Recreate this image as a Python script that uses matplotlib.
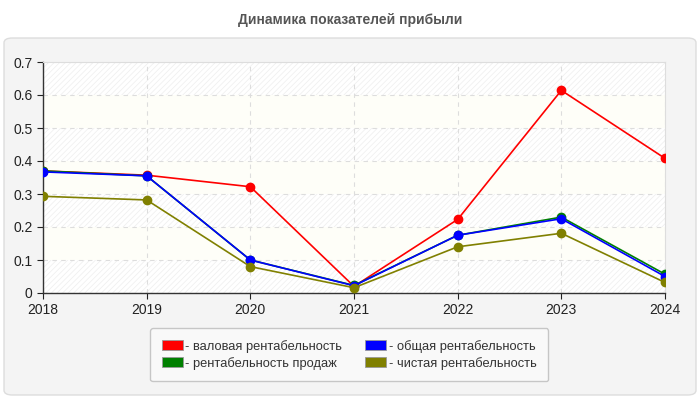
import matplotlib
matplotlib.use("Agg")
import matplotlib.pyplot as plt
from matplotlib.patches import FancyBboxPatch, Patch

years = [2018, 2019, 2020, 2021, 2022, 2023, 2024]
gross = [0.370, 0.357, 0.322, 0.020, 0.223, 0.614, 0.408]
sales = [0.370, 0.355, 0.100, 0.023, 0.175, 0.230, 0.057]
total = [0.367, 0.355, 0.100, 0.022, 0.175, 0.225, 0.050]
net = [0.293, 0.282, 0.080, 0.016, 0.140, 0.181, 0.032]

labels = ["- валовая рентабельность", "- рентабельность продаж",
          "- общая рентабельность", "- чистая рентабельность"]
colors = ["#ff0000", "#008000", "#0000ff", "#808000"]
yticks = [0, 0.1, 0.2, 0.3, 0.4, 0.5, 0.6, 0.7]

plt.rcParams["font.family"] = ["Liberation Sans", "DejaVu Sans"]
plt.rcParams["hatch.linewidth"] = 0.5

fig = plt.figure(figsize=(7, 4), dpi=100)
fig.patch.set_facecolor("white")

# серая подложка
panel = FancyBboxPatch((4 / 700, 5 / 400), 692 / 700, 357 / 400,
                       boxstyle="round,pad=0,rounding_size=0.012",
                       transform=fig.transFigure, facecolor="#f4f4f4",
                       edgecolor="#dddddd", lw=1, zorder=-5)
fig.patches.append(panel)

fig.text(0.5, 0.95, "Динамика показателей прибыли", ha="center", va="center",
         fontsize=10, fontweight="bold", color="#555555")

ax = fig.add_axes([43 / 700, 107 / 400, 622 / 700, 231 / 400])
ax.set_facecolor("white")

# полосы фона
for i in range(7):
    lo, hi = yticks[i], yticks[i + 1]
    if i % 2 == 0:
        ax.axhspan(lo, hi, facecolor="white", edgecolor="#eeeeee",
                   hatch="//////", lw=0, zorder=0)
    else:
        ax.axhspan(lo, hi, facecolor="#fefef8", lw=0, zorder=0)

series = [gross, sales, total, net]
for vals, c in zip(series, colors):
    ax.plot(years, vals, color=c, lw=1.2, marker="o", ms=6, zorder=3)

ax.set_xlim(2018, 2024)
ax.set_ylim(0, 0.7)
ax.set_xticks(years)
ax.set_yticks(yticks)
ax.set_yticklabels(["0", "0.1", "0.2", "0.3", "0.4", "0.5", "0.6", "0.7"])
ax.tick_params(labelsize=10, colors="#222222", length=4, width=0.8)
ax.grid(True, color="#dddddd", ls=(0, (4, 4)), lw=0.8, zorder=1)
ax.set_axisbelow(True)
for s in ["top", "right"]:
    ax.spines[s].set_color("#dddddd")
for s in ["left", "bottom"]:
    ax.spines[s].set_color("#333333")
    ax.spines[s].set_linewidth(1)

handles = [Patch(facecolor=c, edgecolor="#999999", lw=0.6) for c in colors]
leg = fig.legend(handles, labels, loc="center", bbox_to_anchor=(0.499, 0.113),
                 ncol=2, fontsize=9.3, frameon=True, fancybox=True,
                 handlelength=1.6, handleheight=0.8, handletextpad=0.2,
                 columnspacing=1.8, borderpad=0.9, labelspacing=0.3)
leg.get_frame().set_facecolor("#fbfbfb")
leg.get_frame().set_edgecolor("#bbbbbb")
for t in leg.get_texts():
    t.set_color("#333333")

fig.savefig("out.png", dpi=100)
